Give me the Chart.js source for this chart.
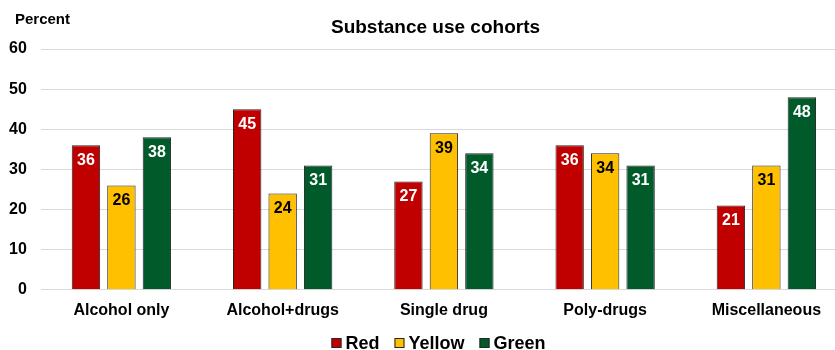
<!DOCTYPE html>
<html>
<head>
<meta charset="utf-8">
<script src="https://cdn.jsdelivr.net/npm/chart.js@4"></script>
<style>
  html, body { margin: 0; padding: 0; background: #fff; overflow: hidden; }
  #wrap { width: 835px; height: 350px; overflow: hidden; }
  #c { display: block; }
</style>
</head>
<body>
<!-- the plot runs slightly past the right edge, so the canvas is wider than the frame -->
<div id="wrap"><canvas id="c" width="847" height="350"></canvas></div>
<script>
// Cohort categories and the share (%) for each colour group
const categories = ["Alcohol only", "Alcohol+drugs", "Single drug", "Poly-drugs", "Miscellaneous"];
const redValues = [36, 45, 27, 36, 21];
const yellowValues = [26, 24, 39, 34, 31];
const greenValues = [38, 31, 34, 31, 48];
const seriesNames = ["Red", "Yellow", "Green"];
const yTicks = [0, 10, 20, 30, 40, 50, 60];

const FONT = "'Liberation Sans', Arial, sans-serif";
const FRAME_WIDTH = 835;

// Writes each bar's value just inside its top edge
const valueLabels = {
  id: 'valueLabels',
  afterDatasetsDraw(chart) {
    const ctx = chart.ctx;
    ctx.save();
    ctx.font = "bold 16px " + FONT;
    ctx.textAlign = 'center';
    ctx.textBaseline = 'middle';
    chart.data.datasets.forEach((ds, i) => {
      const meta = chart.getDatasetMeta(i);
      meta.data.forEach((bar, j) => {
        ctx.fillStyle = ds.labelColor;
        ctx.fillText(String(ds.data[j]), bar.x, bar.y + 15);
      });
    });
    ctx.restore();
  }
};

// Chart heading, unit caption and the series key along the bottom
const headings = {
  id: 'headings',
  afterDraw(chart) {
    const ctx = chart.ctx;
    const centre = FRAME_WIDTH / 2;
    ctx.save();
    ctx.fillStyle = '#000';
    ctx.textBaseline = 'middle';
    ctx.font = "bold 19px " + FONT;
    ctx.textAlign = 'center';
    ctx.fillText("Substance use cohorts", centre + 18, 28);
    ctx.font = "bold 15px " + FONT;
    ctx.textAlign = 'left';
    ctx.fillText("Percent", 15, 20);

    // key: swatch + name for each dataset
    ctx.font = "bold 18px " + FONT;
    const box = 10, gapText = 4, gapItem = 15;
    const items = chart.data.datasets.map(ds => ({
      name: ds.label, color: ds.backgroundColor, w: box + gapText + ctx.measureText(ds.label).width
    }));
    const total = items.reduce((s, it) => s + it.w, 0) + gapItem * (items.length - 1);
    let x = centre + 21 - total / 2;
    const y = 343;
    items.forEach(it => {
      ctx.fillStyle = it.color;
      ctx.fillRect(x, y - box / 2, box, box);
      ctx.strokeStyle = '#262626';
      ctx.lineWidth = 1;
      ctx.strokeRect(x + 0.5, y - box / 2 + 0.5, box - 1, box - 1);
      ctx.fillStyle = '#000';
      ctx.fillText(it.name, x + box + gapText, y + 1);
      x += it.w + gapItem;
    });
    ctx.restore();
  }
};

new Chart(document.getElementById('c'), {
  type: 'bar',
  data: {
    labels: categories,
    datasets: [
      { label: seriesNames[0], data: redValues, backgroundColor: '#C00000', labelColor: '#fff' },
      { label: seriesNames[1], data: yellowValues, backgroundColor: '#FFC000', labelColor: '#000' },
      { label: seriesNames[2], data: greenValues, backgroundColor: '#005A2A', labelColor: '#fff' }
    ].map(d => Object.assign(d, {
      borderColor: '#262626',
      borderWidth: 1,
      categoryPercentage: 0.66,
      barPercentage: 0.80
    }))
  },
  options: {
    responsive: false,
    animation: false,
    devicePixelRatio: 1,
    layout: { padding: { top: 49, right: 0, left: -5, bottom: 27 } },
    scales: {
      x: {
        grid: { display: false },
        border: { display: false },
        ticks: { color: '#000', font: { family: FONT, size: 16, weight: 'bold' }, padding: 3 }
      },
      y: {
        min: 0,
        max: 60,
        afterBuildTicks(scale) { scale.ticks = yTicks.map(v => ({ value: v })); },
        grid: { color: '#d9d9d9', drawTicks: false, lineWidth: 1 },
        border: { display: false },
        ticks: { color: '#000', font: { family: FONT, size: 16, weight: 'bold' }, padding: 14 }
      }
    },
    plugins: {
      legend: { display: false },
      title: { display: false },
      tooltip: { enabled: false }
    }
  },
  plugins: [valueLabels, headings]
});
</script>
</body>
</html>
